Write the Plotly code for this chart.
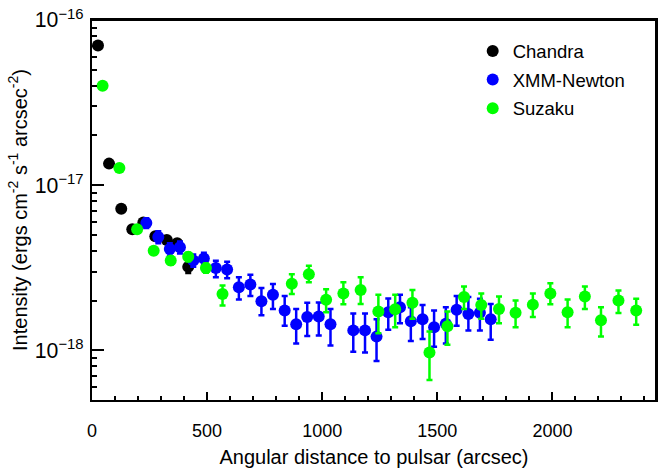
import plotly.graph_objects as go

# Chandra
ch_x = [26, 74, 127, 175, 223, 275, 325, 370, 418]
ch_y = [7.0e-17, 1.35e-17, 7.2e-18, 5.4e-18, 5.95e-18, 4.9e-18, 4.65e-18, 4.45e-18, 3.2e-18]
ch_hi = [7.3e-17, 1.40e-17, 7.5e-18, 5.6e-18, 6.2e-18, 5.1e-18, 4.85e-18, 4.65e-18, 3.5e-18]
ch_lo = [6.7e-17, 1.30e-17, 6.9e-18, 5.2e-18, 5.7e-18, 4.7e-18, 4.45e-18, 4.25e-18, 2.94e-18]

# XMM-Newton
xmm_x = [236, 288, 338, 382, 440, 486, 538, 587, 638, 688, 736, 786, 837, 887, 935,
         985, 1036, 1135, 1186, 1236, 1287, 1338, 1385, 1436, 1486, 1537, 1584, 1635,
         1685, 1732]
xmm_y = [5.9e-18, 4.85e-18, 4.1e-18, 4.2e-18, 3.5e-18, 3.6e-18, 3.15e-18, 3.08e-18,
         2.41e-18, 2.50e-18, 1.98e-18, 2.17e-18, 1.74e-18, 1.44e-18, 1.59e-18,
         1.60e-18, 1.44e-18, 1.32e-18, 1.32e-18, 1.21e-18, 1.70e-18, 1.82e-18,
         1.50e-18, 1.54e-18, 1.38e-18, 1.45e-18, 1.76e-18, 1.66e-18, 1.69e-18, 1.54e-18]
xmm_hi = [6.3e-18, 5.25e-18, 4.45e-18, 4.55e-18, 3.8e-18, 3.9e-18, 3.49e-18, 3.44e-18,
          2.77e-18, 2.87e-18, 2.38e-18, 2.52e-18, 2.13e-18, 1.78e-18, 1.94e-18,
          1.95e-18, 1.78e-18, 1.67e-18, 1.67e-18, 1.54e-18, 2.06e-18, 2.17e-18,
          1.82e-18, 1.88e-18, 1.74e-18, 1.82e-18, 2.13e-18, 2.10e-18, 2.05e-18, 1.91e-18]
xmm_lo = [5.5e-18, 4.45e-18, 3.75e-18, 3.85e-18, 3.2e-18, 3.3e-18, 2.77e-18, 2.73e-18,
          2.03e-18, 2.13e-18, 1.63e-18, 1.78e-18, 1.41e-18, 1.10e-18, 1.22e-18,
          1.23e-18, 1.07e-18, 0.98e-18, 0.97e-18, 0.86e-18, 1.33e-18, 1.46e-18,
          1.14e-18, 1.17e-18, 1.05e-18, 1.10e-18, 1.41e-18, 1.32e-18, 1.32e-18, 1.16e-18]

# Suzaku
suz_x = [46, 119, 196, 268, 342, 418, 495, 567, 868, 942, 1017, 1092, 1167, 1244, 1317,
         1392, 1466, 1544, 1616, 1691, 1768, 1840, 1915, 1991, 2066, 2141, 2211, 2287,
         2364]
suz_y = [4.0e-17, 1.27e-17, 5.4e-18, 4.0e-18, 3.5e-18, 3.68e-18, 3.15e-18, 2.19e-18,
         2.53e-18, 2.89e-18, 2.02e-18, 2.21e-18, 2.32e-18, 1.72e-18, 1.77e-18,
         1.94e-18, 0.97e-18, 1.40e-18, 2.10e-18, 1.88e-18, 1.78e-18, 1.69e-18,
         1.89e-18, 2.21e-18, 1.70e-18, 2.12e-18, 1.52e-18, 2.00e-18, 1.74e-18]
suz_hi = [4.1e-17, 1.31e-17, 5.65e-18, 4.2e-18, 3.7e-18, 3.9e-18, 3.35e-18, 2.47e-18,
          2.89e-18, 3.25e-18, 2.34e-18, 2.58e-18, 2.77e-18, 2.17e-18, 2.17e-18,
          2.32e-18, 1.30e-18, 1.72e-18, 2.43e-18, 2.21e-18, 2.12e-18, 2.00e-18,
          2.21e-18, 2.55e-18, 2.03e-18, 2.43e-18, 1.82e-18, 2.30e-18, 2.05e-18]
suz_lo = [3.9e-17, 1.23e-17, 5.15e-18, 3.8e-18, 3.3e-18, 3.46e-18, 2.95e-18, 1.87e-18,
          2.19e-18, 2.58e-18, 1.70e-18, 1.90e-18, 1.91e-18, 1.27e-18, 1.38e-18,
          1.55e-18, 0.66e-18, 1.08e-18, 1.78e-18, 1.55e-18, 1.46e-18, 1.38e-18,
          1.59e-18, 1.90e-18, 1.38e-18, 1.78e-18, 1.21e-18, 1.68e-18, 1.43e-18]

series = [
    ("Chandra", ch_x, ch_y, ch_hi, ch_lo, "#000000"),
    ("XMM-Newton", xmm_x, xmm_y, xmm_hi, xmm_lo, "#0000ff"),
    ("Suzaku", suz_x, suz_y, suz_hi, suz_lo, "#00ff00"),
]

fig = go.Figure()
for name, xs, ys, hi, lo, col in series:
    fig.add_trace(go.Scatter(
        x=xs, y=ys, mode="markers", name=name, legendgroup=name,
        marker=dict(color=col, size=12, line=dict(width=0)),
        error_y=dict(type="data", symmetric=False,
                     array=[h - v for h, v in zip(hi, ys)],
                     arrayminus=[v - l for l, v in zip(lo, ys)],
                     color=col, thickness=2.5, width=3),
    ))

font = "Liberation Sans, Arial, Helvetica, sans-serif"
fig.update_layout(
    width=664, height=475,
    margin=dict(l=92, r=6, t=18, b=75),
    paper_bgcolor="white", plot_bgcolor="rgba(0,0,0,0)",
    font=dict(family=font, size=17, color="black"),
    legend=dict(x=0.675, y=0.967, xanchor="left", yanchor="top",
                bgcolor="rgba(0,0,0,0)", font=dict(size=18.5), tracegroupgap=1.5),
)
fig.update_xaxes(
    range=[0, 2450], dtick=500, tick0=0,
    showline=True, linecolor="black", linewidth=2, mirror=True,
    ticks="inside", ticklen=8, tickwidth=2, tickcolor="black",
    minor=dict(ticks="inside", ticklen=4, tickwidth=2, dtick=100, tickcolor="black"),
    showgrid=False, zeroline=False, ticklabelstandoff=13,
    tickfont=dict(size=18),
    title=dict(text="Angular distance to pulsar (arcsec)", standoff=10),
)
fig.update_yaxes(
    type="log", range=[-18.301, -16], dtick=1, exponentformat="power",
    showline=True, linecolor="black", linewidth=2, mirror=True,
    ticks="inside", ticklen=12, tickwidth=2, tickcolor="black",
    minor=dict(ticks="inside", ticklen=5, tickwidth=2, dtick="D1", tickcolor="black"),
    showgrid=False, zeroline=False, ticklabelstandoff=3,
    tickfont=dict(size=17),
    title=dict(text="Intensity (ergs cm<sup>-2</sup> s<sup>-1</sup> arcsec<sup>-2</sup>)",
               standoff=2),
)
# top and right edges of the frame, drawn as separate lines
fig.add_shape(type="line", xref="x domain", yref="y domain", x0=0, x1=1, y0=1, y1=1,
              line=dict(color="black", width=2), layer="above")
fig.add_shape(type="line", xref="x domain", yref="y domain", x0=1, x1=1, y0=0, y1=1,
              line=dict(color="black", width=2), layer="above")

fig.write_html("out.html", config={"displayModeBar": False},
               post_script="document.body.style.margin='0';")
